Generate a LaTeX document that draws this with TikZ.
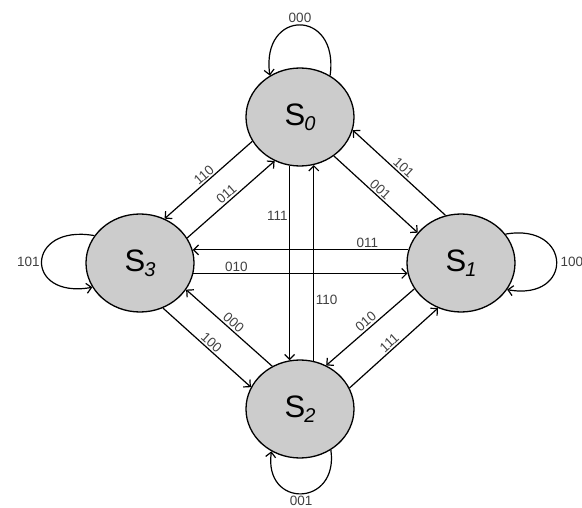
\documentclass[tikz,border=0pt]{standalone}
\usepackage{fontspec}
\setmainfont{Liberation Sans}
\usetikzlibrary{arrows.meta,shapes.geometric}
\newcommand\stname[1]{\fontsize{31}{31}\selectfont S\kern-1pt\raisebox{-5pt}{\fontsize{20}{20}\selectfont\itshape #1}}
\begin{document}
\begin{tikzpicture}[x=1pt,y=-1pt,
  state/.style={ellipse, draw, line width=1.3pt, fill=black!20, minimum width=108pt, minimum height=98pt, inner sep=0pt},
  tr/.style={line width=1.2pt, -{Straight Barb[length=5pt,width=10pt]}},
  lab/.style={font=\fontsize{13.5}{13.5}\selectfont, text=black!75, inner sep=1.5pt},
  ]
\useasboundingbox (0,0) rectangle (582,508);
\node[state] (S0) at (300,117) {\stname{0}};
\node[state] (S3) at (140,263) {\stname{3}};
\node[state] (S1) at (461,263) {\stname{1}};
\node[state] (S2) at (300,409) {\stname{2}};

% diagonals
\draw[tr] (S0.207) -- node[lab,sloped,above]{110} (S3.61);
\draw[tr] (S3.28) -- node[lab,sloped,above]{011} (S0.240);
\draw[tr] (S0.311) -- node[lab,sloped,above]{001} (S1.145);
\draw[tr] (S1.108) -- node[lab,sloped,above]{101} (S0.346);
\draw[tr] (S3.297) -- node[lab,sloped,above]{100} (S2.156);
\draw[tr] (S2.123) -- node[lab,sloped,above]{000} (S3.330);
\draw[tr] (S1.209) -- node[lab,sloped,above]{010} (S2.59);
\draw[tr] (S2.23) -- node[lab,sloped,above]{111} (S1.243);

% verticals
\draw[tr] (S0.258) -- node[lab,left,pos=0.26]{111} (S2.102);
\draw[tr] (S2.74) -- node[lab,right,pos=0.31]{110} (S0.286);

% horizontals
\draw[tr] (S1.166) -- node[lab,above,pos=0.19]{011} (S3.14);
\draw[tr] (S3.349) -- node[lab,above,pos=0.2]{010} (S1.191);

% self loops
\draw[tr] (S0.54) .. controls +(82:68pt) and +(98:68pt) .. node[lab,above,pos=0.5]{000} (S0.126);
\draw[tr] (S3.149) .. controls +(170:70pt) and +(190:70pt) .. node[lab,left,pos=0.5]{101} (S3.207);
\draw[tr] (S1.33) .. controls +(10:68pt) and +(-10:68pt) .. node[lab,right,pos=0.5,xshift=2pt]{100} (S1.330);
\draw[tr] (S2.307) .. controls +(-82:58pt) and +(-98:58pt) .. node[lab,below,pos=0.5]{001} (S2.236);
\end{tikzpicture}
\end{document}
